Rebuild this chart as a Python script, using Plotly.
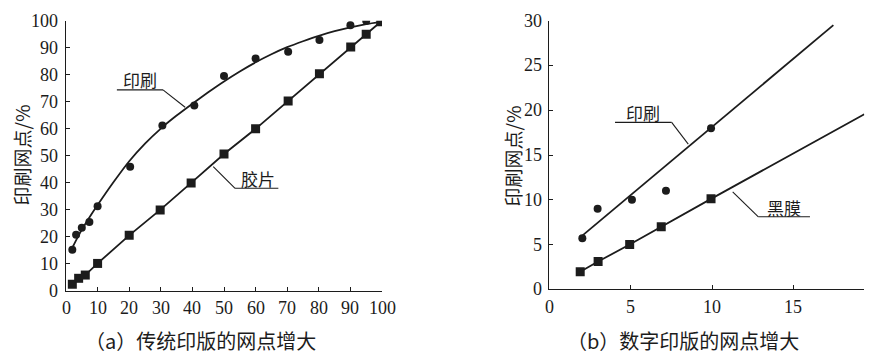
import plotly.graph_objects as go

W, H = 895, 358

# ---------- (a) traditional plate ----------
a_print_x = [2, 3.2, 5, 7.4, 10, 20.3, 30.5, 40.6, 50, 60, 70.3, 80.2, 90, 95]
a_print_y = [15.3, 20.8, 23.4, 25.5, 31.4, 46, 61.2, 68.6, 79.5, 86, 88.5, 92.9, 98.3, 100]
a_print_fit_x = [2, 4, 6, 8, 10, 15, 20, 25, 30, 35, 40, 45, 50, 55, 60, 65, 70, 75, 80, 85, 90, 95, 100]
a_print_fit_y = [16, 20.6, 24.6, 28.3, 31.8, 40.2, 48.0, 54.5, 60.1, 64.9, 69.3, 73.5, 77.5,
                 81.2, 84.6, 87.6, 90.2, 92.4, 94.4, 96.1, 97.5, 98.7, 99.65]
a_film_x = [2, 4, 6.1, 10, 20, 29.8, 39.6, 50, 60, 70.3, 80.2, 90.1, 95, 99.6]
a_film_y = [2.5, 4.7, 5.9, 10.2, 20.6, 30, 40, 50.7, 60, 70.3, 80.4, 90.3, 95, 99.6]
a_xticks = [0, 10, 20, 30, 40, 50, 60, 70, 80, 90, 100]
a_yticks = [0, 10, 20, 30, 40, 50, 60, 70, 80, 90, 100]

# ---------- (b) digital plate ----------
b_print_x = [2.03, 2.97, 5.08, 7.17, 9.94]
b_print_y = [5.7, 9.0, 10.0, 11.0, 18.0]
b_print_fit_x = [1.9, 17.46]
b_print_fit_y = [5.8, 29.5]
b_film_x = [1.9, 3.0, 4.94, 6.88, 9.94]
b_film_y = [1.95, 3.1, 5.0, 7.0, 10.1]
b_film_fit_x = [1.9, 3.0, 4.94, 6.88, 9.94, 19.36]
b_film_fit_y = [1.95, 3.1, 5.0, 7.0, 10.1, 19.56]
b_xticks = [0, 5, 10, 15]
b_yticks = [0, 5, 10, 15, 20, 25, 30]

y_title = "印刷网点/%"
caption_a = "（a）传统印版的网点增大"
caption_b = "（b）数字印版的网点增大"

INK = "#1c1c1c"
NUM_FONT = dict(family="Liberation Serif", size=18, color=INK)
CJK_FONT = dict(family="Noto Sans CJK SC", size=17, color=INK)

fig = go.Figure()

line_style = dict(color=INK, width=1.8)
circ = dict(symbol="circle", size=8, color=INK)
sq = dict(symbol="square", size=9, color=INK)

# (a)
fig.add_trace(go.Scatter(x=a_print_fit_x, y=a_print_fit_y, mode="lines",
                         line=dict(shape="spline", smoothing=0.6, **line_style),
                         xaxis="x", yaxis="y", hoverinfo="skip"))
fig.add_trace(go.Scatter(x=a_print_x, y=a_print_y, mode="markers", marker=circ,
                         xaxis="x", yaxis="y"))
fig.add_trace(go.Scatter(x=a_film_x, y=a_film_y, mode="lines+markers", marker=sq,
                         line=line_style, xaxis="x", yaxis="y"))
# (b)
fig.add_trace(go.Scatter(x=b_print_fit_x, y=b_print_fit_y, mode="lines", line=line_style,
                         xaxis="x2", yaxis="y2", hoverinfo="skip"))
fig.add_trace(go.Scatter(x=b_print_x, y=b_print_y, mode="markers", marker=circ,
                         xaxis="x2", yaxis="y2"))
fig.add_trace(go.Scatter(x=b_film_fit_x, y=b_film_fit_y, mode="lines", line=line_style,
                         xaxis="x2", yaxis="y2", hoverinfo="skip"))
fig.add_trace(go.Scatter(x=b_film_x, y=b_film_y, mode="markers", marker=sq,
                         xaxis="x2", yaxis="y2"))

def px_x(p):
    return p / W

def px_y(p):
    return (H - p) / H

axis_common = dict(showgrid=False, zeroline=False, showline=True, linecolor=INK, linewidth=1.3,
                   ticks="inside", ticklen=4, tickwidth=1.3, tickcolor=INK,
                   showticklabels=False, fixedrange=True)

fig.update_layout(
    width=W, height=H, margin=dict(l=0, r=0, t=0, b=0),
    paper_bgcolor="white", plot_bgcolor="white", showlegend=False,
    xaxis=dict(domain=[px_x(66), px_x(382)], range=[0, 100], tickvals=a_xticks,
               anchor="y", **axis_common),
    yaxis=dict(domain=[px_y(291), px_y(20.7)], range=[0, 100], tickvals=a_yticks,
               anchor="x", **axis_common),
    xaxis2=dict(domain=[px_x(549.3), px_x(864.3)], range=[0, 19.36], tickvals=b_xticks,
                anchor="y2", **axis_common),
    yaxis2=dict(domain=[px_y(289.3), px_y(20.7)], range=[0, 30], tickvals=b_yticks,
                anchor="x2", **axis_common),
)

ann = []
# tick labels as text annotations (serif numerals)
for v in a_xticks:
    ann.append(dict(text=str(v), xref="x", yref="paper", x=v, y=px_y(296), showarrow=False,
                    font=NUM_FONT, xanchor="center", yanchor="top"))
for v in a_yticks:
    ann.append(dict(text=str(v), xref="paper", yref="y", x=px_x(60), y=v, showarrow=False,
                    font=NUM_FONT, xanchor="right", yanchor="middle"))
for v in b_xticks:
    ann.append(dict(text=str(v), xref="x2", yref="paper", x=v, y=px_y(295), showarrow=False,
                    font=NUM_FONT, xanchor="center", yanchor="top"))
for v in b_yticks:
    ann.append(dict(text=str(v), xref="paper", yref="y2", x=px_x(544), y=v, showarrow=False,
                    font=NUM_FONT, xanchor="right", yanchor="middle"))

title_font = dict(CJK_FONT, size=19)
# y-axis titles
ann.append(dict(text=y_title, xref="paper", yref="paper", x=px_x(21), y=px_y(155.5),
                showarrow=False, textangle=-90, font=title_font, xanchor="center", yanchor="middle"))
ann.append(dict(text=y_title, xref="paper", yref="paper", x=px_x(512), y=px_y(155.5),
                showarrow=False, textangle=-90, font=title_font, xanchor="center", yanchor="middle"))
# captions
cap_font = dict(CJK_FONT, size=20)
ann.append(dict(text=caption_a, xref="paper", yref="paper", x=px_x(200), y=px_y(340.5),
                showarrow=False, font=cap_font, xanchor="center", yanchor="middle"))
ann.append(dict(text=caption_b, xref="paper", yref="paper", x=px_x(682.5), y=px_y(340.5),
                showarrow=False, font=cap_font, xanchor="center", yanchor="middle"))
# series labels
ann.append(dict(text="印刷", xref="x", yref="y", x=23.4, y=78.3, showarrow=False,
                font=CJK_FONT, xanchor="center", yanchor="middle"))
ann.append(dict(text="胶片", xref="x", yref="y", x=60.6, y=41.6, showarrow=False,
                font=CJK_FONT, xanchor="center", yanchor="middle"))
ann.append(dict(text="印刷", xref="x2", yref="y2", x=5.78, y=19.8, showarrow=False,
                font=CJK_FONT, xanchor="center", yanchor="middle"))
ann.append(dict(text="黑膜", xref="x2", yref="y2", x=14.43, y=9.1, showarrow=False,
                font=CJK_FONT, xanchor="center", yanchor="middle"))
fig.update_layout(annotations=ann)

# leader lines
leaders = [
    ("x", "y", [(16.1, 74.4), (30.7, 74.4), (37.7, 68.0)]),
    ("x", "y", [(46.6, 46.0), (53.5, 38.0), (67.2, 38.0)]),
    ("x2", "y2", [(4.04, 18.64), (7.52, 18.64), (8.54, 16.22)]),
    ("x2", "y2", [(11.27, 10.89), (12.85, 8.10), (16.02, 8.10)]),
]
for xr, yr, pts in leaders:
    for (x0, y0), (x1, y1) in zip(pts[:-1], pts[1:]):
        fig.add_shape(type="line", xref=xr, yref=yr, x0=x0, y0=y0, x1=x1, y1=y1,
                      line=dict(color=INK, width=1.1))

fig.write_html("out.html", config=dict(displayModeBar=False),
               post_script="document.body.style.margin='0';document.body.style.overflow='hidden';")
